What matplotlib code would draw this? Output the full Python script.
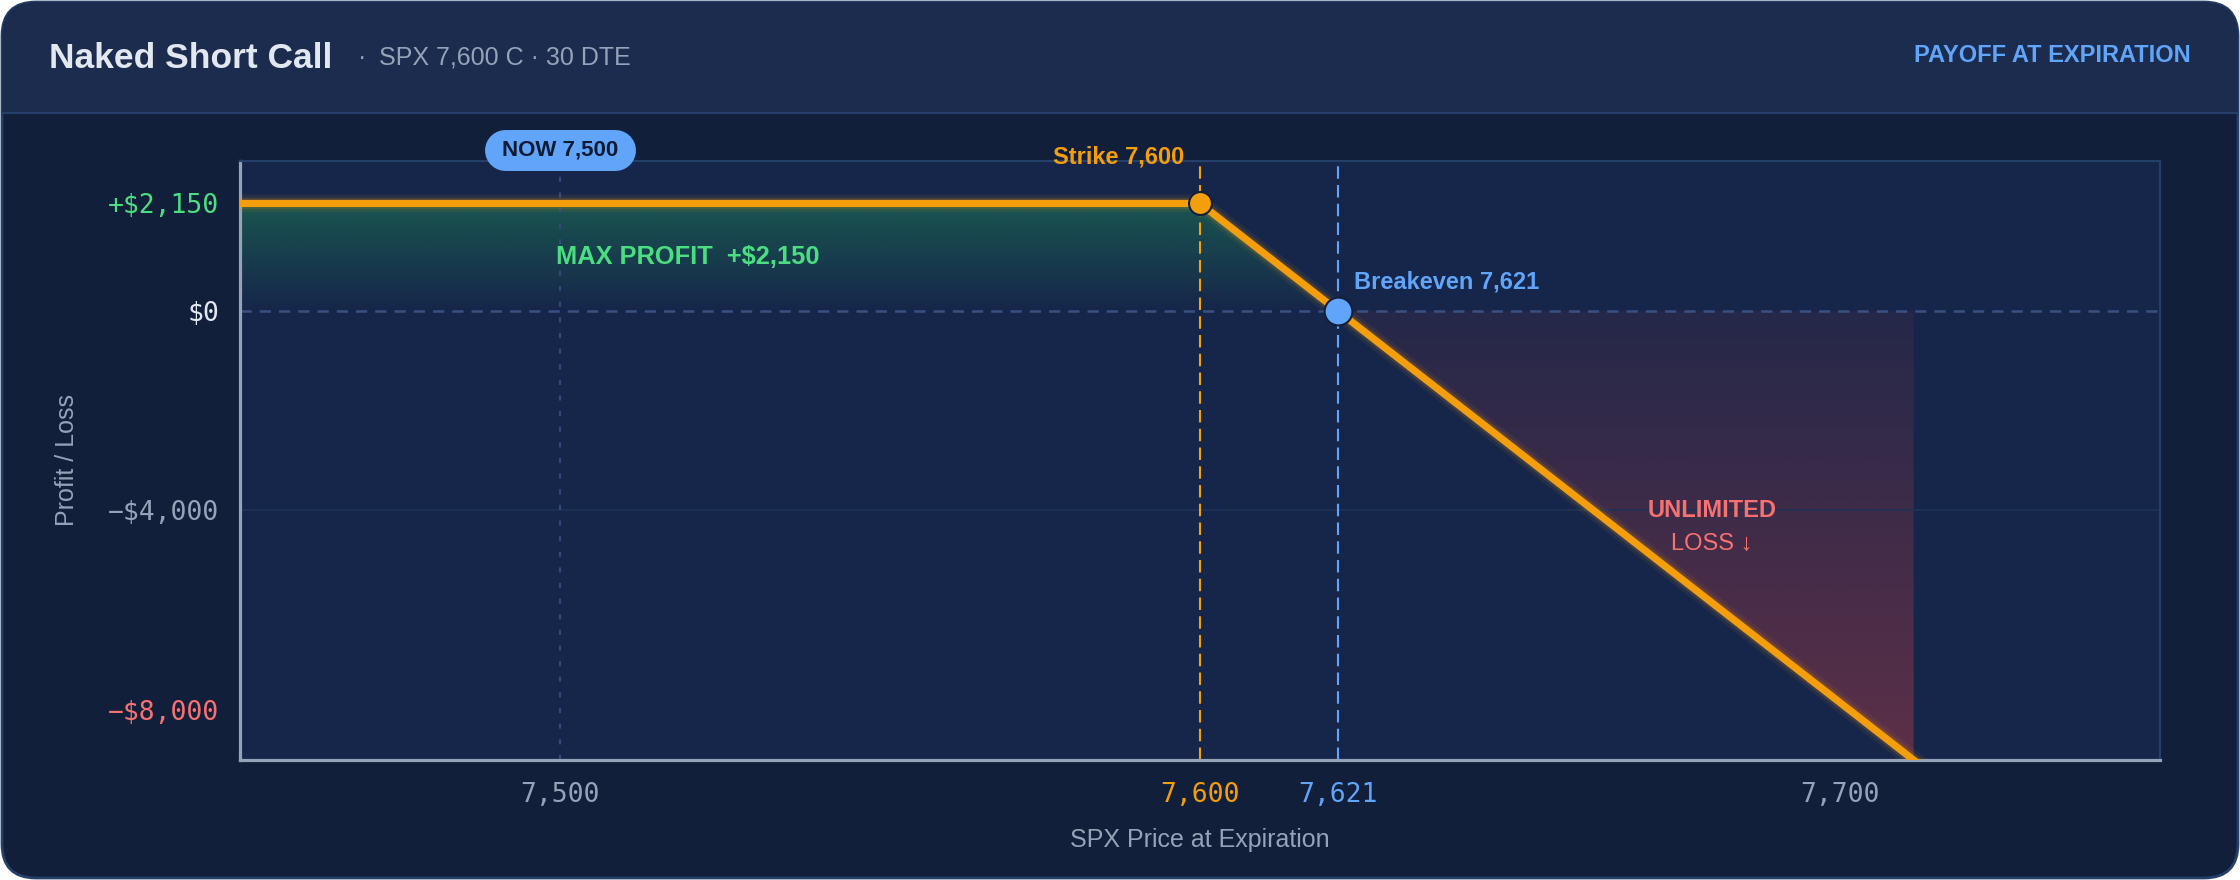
import matplotlib
matplotlib.use('Agg')
import matplotlib.pyplot as plt
import matplotlib.patheffects as pe
import numpy as np
from matplotlib.colors import to_rgb
from matplotlib.patches import FancyBboxPatch, Rectangle
from matplotlib.transforms import offset_copy

plt.rcParams['font.family'] = ['Liberation Sans', 'DejaVu Sans']

# payoff of the short call at expiration
price_pts = [7450, 7600, 7621.5, 7711.5]
pnl_pts = [2150, 2150, 0, -9000]
spot = 7500
strike = 7600
breakeven = 7621.5
max_profit = 2150

xtick_vals = [7500, 7600, 7621.5, 7700]
xtick_labels = ['7,500', '7,600', '7,621', '7,700']
ytick_vals = [2150, 0, -4000, -8000]
ytick_labels = ['+$2,150', '$0', '\u2212$4,000', '\u2212$8,000']

ORANGE = '#f59e0b'
BLUE = '#60a5fa'
GREEN = '#4ade80'
RED = '#f87171'
GREY = '#94a3b8'
WHITE = '#e2e8f0'
HEADER = '#1c2c4f'
BODY = '#121f3a'
PLOT_BG = '#16264a'
BORDER = '#24406a'

xtick_colors = [GREY, ORANGE, BLUE, GREY]
ytick_colors = [GREEN, WHITE, GREY, RED]


def gradient_fill(ax, x, y, color, a_top, a_bot, y_top, y_bot):
    """Fill between y and 0 with a vertical alpha gradient"""
    poly = ax.fill_between(x, y, 0, color='none', lw=0)
    img = np.zeros((256, 1, 4))
    img[:, :, :3] = to_rgb(color)
    img[:, 0, 3] = np.linspace(a_top, a_bot, 256)
    im = ax.imshow(img, extent=[x.min(), x.max(), y_bot, y_top], origin='upper',
                   aspect='auto', interpolation='bilinear', zorder=1)
    im.set_clip_path(poly.get_paths()[0], transform=ax.transData)


W, H = 2240, 880
fig = plt.figure(figsize=(W / 100, H / 100), dpi=100, facecolor='white')

# card background in pixel units
bg = fig.add_axes([0, 0, 1, 1])
bg.set_xlim(0, W)
bg.set_ylim(H, 0)
bg.axis('off')
card = FancyBboxPatch((2, 2), W - 4, H - 4, boxstyle='round,pad=0,rounding_size=34',
                      fc=BODY, ec=BORDER, lw=2)
bg.add_patch(card)
header = Rectangle((0, 0), W, 113, fc=HEADER, ec='none')
bg.add_patch(header)
header.set_clip_path(card)
sep, = bg.plot([0, W], [113, 113], color=BORDER, lw=1.5)
sep.set_clip_path(card)

bg.text(49, 58, 'Naked Short Call', fontsize=25.5, fontweight='bold', color=WHITE,
        ha='left', va='center')
bg.text(358, 58, '\u00b7', fontsize=18, color=GREY, ha='left', va='center')
bg.text(379, 58, 'SPX 7,600 C \u00b7 30 DTE', fontsize=18, color=GREY, ha='left', va='center')
bg.text(2191, 55, 'PAYOFF AT EXPIRATION', fontsize=17, fontweight='bold', color=BLUE,
        ha='right', va='center')

# main plot
ax = fig.add_axes([240 / W, 1 - 760 / H, 1920 / W, 599 / H])
ax.set_facecolor(PLOT_BG)

x = np.array(price_pts, dtype=float)
y = np.array(pnl_pts, dtype=float)
gain = y >= 0
loss = y <= 0
gradient_fill(ax, x[gain], y[gain], '#22c55e', 0.30, 0.0, max_profit, 0)
gradient_fill(ax, x[loss], y[loss], '#ef4444', 0.07, 0.33, 0, y.min())

ax.axhline(-4000, color='#1f3358', lw=1.2, zorder=1.5)
ax.axhline(0, color='#3a5080', lw=1.8, ls=(0, (4.5, 3.2)), zorder=2)
ax.axvline(spot, color='#34487a', lw=1.5, ls=(0, (2.5, 5)), zorder=2)
ax.axvline(strike, color=ORANGE, lw=1.5, ls=(0, (6, 3)), zorder=2)
ax.axvline(breakeven, color=BLUE, lw=1.5, ls=(0, (6, 3)), zorder=2)

ax.plot(x, y, color=ORANGE, lw=5.2, solid_joinstyle='round', zorder=5,
        path_effects=[pe.Stroke(linewidth=13, foreground=ORANGE, alpha=0.07),
                      pe.Stroke(linewidth=8.5, foreground=ORANGE, alpha=0.15),
                      pe.Normal()])
ax.plot(strike, max_profit, 'o', ms=16.5, mfc=ORANGE, mec=BODY, mew=1.5, zorder=6)
ax.plot(breakeven, 0, 'o', ms=20, mfc=BLUE, mec=BODY, mew=1.5, zorder=6)

ax.set_xlim(7450, 7750)
ax.set_ylim(-9000, 3000)

# annotations
ax.annotate('Strike 7,600', xy=(strike, 3000), xytext=(-11, 3), textcoords='offset points',
            ha='right', va='center', fontsize=17, fontweight='bold', color=ORANGE,
            annotation_clip=False)
ax.annotate('Breakeven 7,621', xy=(breakeven, 0), xytext=(12, 21), textcoords='offset points',
            ha='left', va='center', fontsize=17, fontweight='bold', color=BLUE)

# "NOW" pill: a thick round-capped stroke behind the label
pill_trans = offset_copy(ax.transData, fig=fig, x=0, y=8, units='points')
ax.plot([spot - 8.6, spot + 8.6], [3000, 3000], transform=pill_trans, color=BLUE,
        lw=29.5, solid_capstyle='round', clip_on=False, zorder=7)
ax.annotate('NOW 7,500', xy=(spot, 3000), xytext=(0, 8), textcoords='offset points',
            ha='center', va='center', fontsize=16, fontweight='bold', color='#0f1b33',
            annotation_clip=False, zorder=8)

ax.text(7520, 1075, 'MAX PROFIT  +$2,150', ha='center', va='center', fontsize=18.3,
        fontweight='bold', color=GREEN, zorder=4)
ax.text(7680, -4000, 'UNLIMITED', ha='center', va='center', fontsize=17,
        fontweight='bold', color=RED, zorder=4)
ax.text(7680, -4680, 'LOSS \u2193', ha='center', va='center', fontsize=17,
        color=RED, zorder=4)

# ticks
ax.set_xticks(xtick_vals)
ax.set_xticklabels(xtick_labels, fontfamily='DejaVu Sans Mono', fontsize=19)
ax.set_yticks(ytick_vals)
ax.set_yticklabels(ytick_labels, fontfamily='DejaVu Sans Mono', fontsize=19)
for lbl, c in zip(ax.get_xticklabels(), xtick_colors):
    lbl.set_color(c)
for lbl, c in zip(ax.get_yticklabels(), ytick_colors):
    lbl.set_color(c)
ax.tick_params(axis='x', length=0, pad=16)
ax.tick_params(axis='y', length=0, pad=15)

for side in ['left', 'bottom']:
    ax.spines[side].set_color(GREY)
    ax.spines[side].set_linewidth(2.3)
for side in ['top', 'right']:
    ax.spines[side].set_color('#24406a')
    ax.spines[side].set_linewidth(1.5)

ax.text(-0.0901, 0.5, 'Profit / Loss', transform=ax.transAxes, rotation=90,
        ha='center', va='center', fontsize=18, color=GREY)
ax.text(0.5, -0.1336, 'SPX Price at Expiration', transform=ax.transAxes,
        ha='center', va='center', fontsize=18, color=GREY)

fig.savefig('out.png', dpi=100, facecolor='white')
